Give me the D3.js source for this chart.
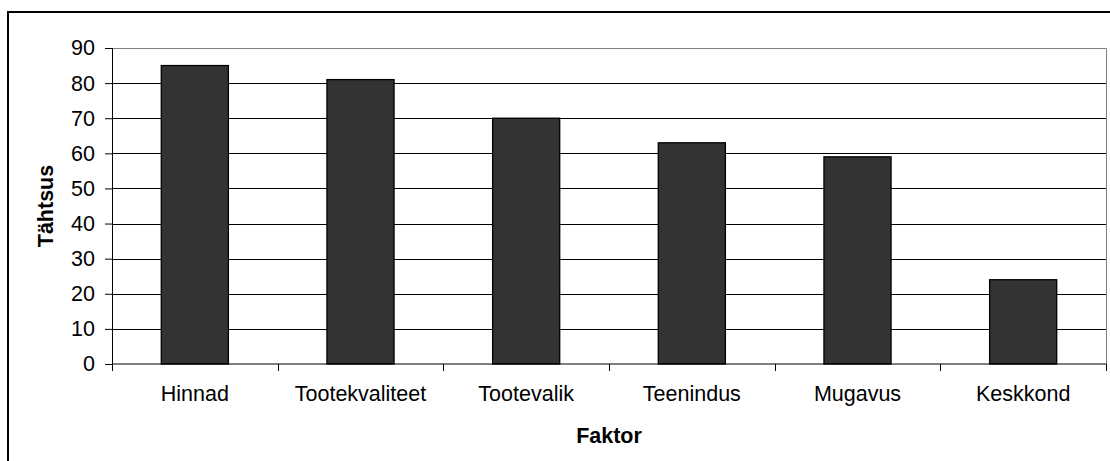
<!DOCTYPE html>
<html><head><meta charset="utf-8">
<script src="https://cdn.jsdelivr.net/npm/d3@7"></script>
<style>
html,body{margin:0;padding:0;background:#fff;}
svg{display:block;font-family:Arial,"Liberation Sans",sans-serif;}
</style></head>
<body>
<svg id="chart" width="1110" height="461"></svg>
<script>
const categories = ["Hinnad","Tootekvaliteet","Tootevalik","Teenindus","Mugavus","Keskkond"];
const values = [85, 81, 70, 63, 59, 24];
const yTicks = [0,10,20,30,40,50,60,70,80,90];
const yTitle = "Tähtsus";
const xTitle = "Faktor";

const svg = d3.select("#chart");
const m = {left:112, right:1106, top:48, bottom:364};
const FS = "21.5px";

// outer frame
svg.append("rect").attr("x",8).attr("y",12).attr("width",1200).attr("height",600)
  .attr("fill","#fff").attr("stroke","#000").attr("stroke-width",2);

const pad = 0.595;
const x = d3.scaleBand().domain(categories).range([m.left, m.right])
  .paddingInner(pad).paddingOuter(pad/2);
const y = d3.scaleLinear().domain([0,90]).range([m.bottom, m.top]);

// gridlines
svg.append("g").selectAll("line").data(yTicks.filter(t=>t>0 && t<90)).join("line")
  .attr("x1",m.left).attr("x2",m.right)
  .attr("y1",d=>Math.round(y(d))+0.5).attr("y2",d=>Math.round(y(d))+0.5)
  .attr("stroke","#000").attr("stroke-width",1);

// plot border top & right (grey)
svg.append("path")
  .attr("d",`M${m.left},${Math.round(y(90))+0.5}H${m.right+0.5}V${m.bottom}`)
  .attr("fill","none").attr("stroke","#808080").attr("stroke-width",1);

// bars
svg.append("g").selectAll("rect").data(values).join("rect")
  .attr("x",(d,i)=>x(categories[i]))
  .attr("y",d=>y(d))
  .attr("width",x.bandwidth())
  .attr("height",d=>m.bottom - y(d))
  .attr("fill","#333333").attr("stroke","#000").attr("stroke-width",1.3);

// y axis
const yAxis = svg.append("g").attr("transform",`translate(${m.left},0)`)
  .call(d3.axisLeft(y).tickValues(yTicks).tickSize(7).tickPadding(10).tickFormat(d3.format("d")));
yAxis.select(".domain").attr("stroke","#000");
yAxis.selectAll(".tick line").attr("stroke","#000");
yAxis.selectAll("text").attr("font-size",FS).attr("fill","#000")
  .attr("font-family","Arial,'Liberation Sans',sans-serif");

// x axis
const step = x.step();
const bounds = categories.map(c => x(c) - step*pad/2).concat([m.right]);
const xg = svg.append("g");
xg.append("line").attr("x1",m.left).attr("x2",m.right).attr("y1",m.bottom).attr("y2",m.bottom)
  .attr("stroke","#000");
xg.selectAll("line.t").data(bounds).join("line").attr("class","t")
  .attr("x1",d=>Math.round(d)+0.5).attr("x2",d=>Math.round(d)+0.5)
  .attr("y1",m.bottom).attr("y2",m.bottom+7).attr("stroke","#000");
const xAxis = svg.append("g").attr("transform",`translate(0,${m.bottom})`)
  .call(d3.axisBottom(x).tickSize(0).tickPadding(22));
xAxis.select(".domain").remove();
xAxis.selectAll("text").attr("font-size",FS).attr("fill","#000")
  .attr("font-family","Arial,'Liberation Sans',sans-serif");

// titles
svg.append("text").attr("transform",`translate(53,${(m.top+m.bottom)/2}) rotate(-90)`)
  .attr("text-anchor","middle").attr("font-size",FS).attr("font-weight","bold")
  .text(yTitle);
svg.append("text").attr("x",(m.left+m.right)/2).attr("y",443)
  .attr("text-anchor","middle").attr("font-size",FS).attr("font-weight","bold")
  .text(xTitle);
</script>
</body></html>
